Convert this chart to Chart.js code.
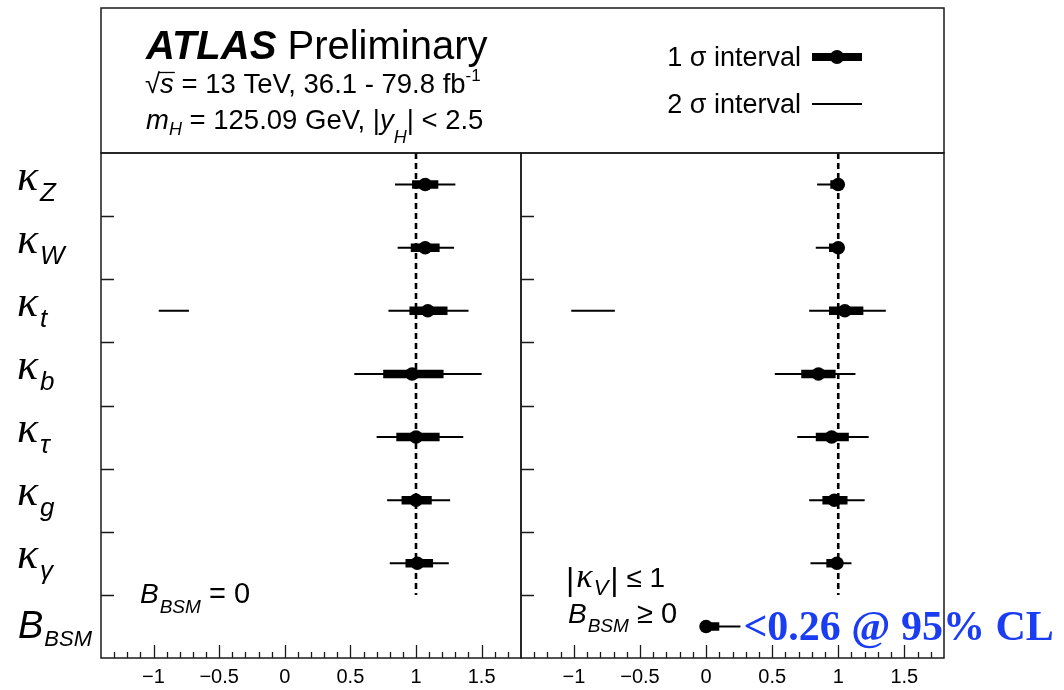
<!DOCTYPE html>
<html>
<head>
<meta charset="utf-8">
<script src="https://cdn.jsdelivr.net/npm/chart.js@4.4.0/dist/chart.umd.min.js"></script>
<style>
  html, body { margin: 0; padding: 0; background: #fff; }
  #wrap { position: relative; width: 1064px; height: 690px; }
  canvas { position: absolute; left: 0; top: 0; }
</style>
</head>
<body>
<div id="wrap">
  <canvas id="fixedPanel" width="1064" height="690"></canvas>
  <canvas id="freePanel" width="1064" height="690"></canvas>
</div>
<script>
// Coupling modifiers, top to bottom
const rowSymbols    = ['κ', 'κ', 'κ', 'κ', 'κ', 'κ', 'κ', 'B'];
const rowSubscripts = ['Z', 'W', 't', 'b', 'τ', 'g', 'γ', 'BSM'];

// Fit with B_BSM = 0
const fixedBest  = [1.07, 1.07, 1.09, 0.97, 1.00, 1.00, 1.01, null];
const fixed1Lo   = [0.97, 0.96, 0.95, 0.75, 0.85, 0.89, 0.92, null];
const fixed1Hi   = [1.17, 1.18, 1.24, 1.21, 1.18, 1.12, 1.13, null];
const fixed2Lo   = [0.84, 0.86, 0.79, 0.53, 0.70, 0.78, 0.80, null];
const fixed2Hi   = [1.30, 1.29, 1.40, 1.50, 1.36, 1.26, 1.25, null];
const fixed2AltLo = [null, null, -0.96, null, null, null, null, null];
const fixed2AltHi = [null, null, -0.73, null, null, null, null, null];

// Fit with |kappa_V| <= 1 and B_BSM >= 0
const freeBest   = [1.00, 1.00, 1.05, 0.85, 0.95, 0.97, 0.99, 0.00];
const free1Lo    = [0.94, 0.93, 0.93, 0.72, 0.83, 0.88, 0.91, 0.00];
const free1Hi    = [1.00, 1.00, 1.19, 0.98, 1.08, 1.07, 1.03, 0.10];
const free2Lo    = [0.84, 0.83, 0.78, 0.52, 0.69, 0.78, 0.79, 0.00];
const free2Hi    = [1.00, 1.00, 1.36, 1.13, 1.23, 1.20, 1.10, 0.26];
const free2AltLo = [null, null, -1.02, null, null, null, null, null];
const free2AltHi = [null, null, -0.69, null, null, null, null, null];

const bsmLimit = 0.26;      // 95% CL upper limit on B_BSM
const smValue = 1;          // Standard Model expectation for every kappa
const xMin = -1.4, xMax = 1.8;
const tickValues = [-1, -0.5, 0, 0.5, 1, 1.5];
const tickLabels = ['−1', '−0.5', '0', '0.5', '1', '1.5'];

const SANS = '"Liberation Sans", Arial, Helvetica, sans-serif';
const SERIF = '"Liberation Serif", "Times New Roman", serif';
const INK = '#000';

// interval lists -> one broken polyline (null entries break it)
function intervalPoints(lo, hi, altLo, altHi) {
  const pts = [];
  lo.forEach((l, i) => {
    if (l == null) return;
    const y = i + 0.5;
    pts.push({ x: l, y }, { x: hi[i], y }, { x: null, y: null });
    if (altLo && altLo[i] != null) {
      pts.push({ x: altLo[i], y }, { x: altHi[i], y }, { x: null, y: null });
    }
  });
  return pts;
}
function bestPoints(best) {
  return best.map((v, i) => v == null ? null : { x: v, y: i + 0.5 }).filter(p => p);
}

// draws a run of differently styled text pieces: [text, font, dy, extraGap]
function drawRuns(ctx, x, y, runs, align) {
  ctx.save();
  ctx.textBaseline = 'alphabetic';
  ctx.textAlign = 'left';
  ctx.fillStyle = INK;
  let total = 0;
  runs.forEach(r => { ctx.font = r[1]; total += ctx.measureText(r[0]).width + (r[3] || 0); });
  let cx = align === 'right' ? x - total : x;
  runs.forEach(r => {
    ctx.font = r[1];
    ctx.fillText(r[0], cx, y + (r[2] || 0));
    cx += ctx.measureText(r[0]).width + (r[3] || 0);
  });
  ctx.restore();
  return cx;
}

function datasetsFor(best, lo1, hi1, lo2, hi2, alo2, ahi2) {
  return [
    { type: 'scatter', data: bestPoints(best), pointRadius: 6.8, pointHoverRadius: 6.8,
      backgroundColor: INK, borderWidth: 0, showLine: false },
    { type: 'line', data: intervalPoints(lo1, hi1), borderColor: INK, borderWidth: 8.5,
      borderCapStyle: 'butt', pointRadius: 0, spanGaps: false, fill: false },
    { type: 'line', data: intervalPoints(lo2, hi2, alo2, ahi2), borderColor: INK, borderWidth: 2,
      borderCapStyle: 'butt', pointRadius: 0, spanGaps: false, fill: false },
    { type: 'line', data: [{ x: smValue, y: 0 }, { x: smValue, y: rowSymbols.length - 1 }],
      borderColor: INK, borderWidth: 2.6, borderDash: [6, 4], pointRadius: 0, fill: false }
  ];
}

// frame plus inward-pointing ticks of each panel
const framePlugin = {
  id: 'frame',
  afterDraw(chart) {
    const { ctx, chartArea: a, scales: { x, y } } = chart;
    ctx.save();
    ctx.strokeStyle = '#1a1a1a';
    ctx.lineWidth = 1.5;
    ctx.strokeRect(a.left, a.top, a.right - a.left, a.bottom - a.top);
    ctx.lineWidth = 1.3;
    ctx.beginPath();
    for (let k = Math.ceil(xMin * 10) + 1; k < Math.floor(xMax * 10); k++) {
      const px = Math.round(x.getPixelForValue(k / 10)) + 0.5;
      const len = k % 5 === 0 ? 13 : 6;
      ctx.moveTo(px, a.bottom);
      ctx.lineTo(px, a.bottom - len);
    }
    for (let r = 1; r < rowSymbols.length; r++) {
      const py = Math.round(y.getPixelForValue(r)) + 0.5;
      ctx.moveTo(a.left, py);
      ctx.lineTo(a.left + 13, py);
    }
    ctx.stroke();
    ctx.restore();
  }
};

function panelOptions(padLeft, padRight) {
  return {
    responsive: false,
    animation: false,
    devicePixelRatio: 1,
    layout: { padding: { left: padLeft, right: padRight, top: 153, bottom: 0 } },
    plugins: { legend: { display: false }, tooltip: { enabled: false } },
    scales: {
      x: {
        type: 'linear', min: xMin, max: xMax,
        afterFit: s => { s.height = 32; },
        afterBuildTicks: s => { s.ticks = tickValues.map(v => ({ value: v })); },
        grid: { display: false, drawTicks: false },
        border: { display: false },
        ticks: {
          padding: 7, color: INK, autoSkip: false, maxRotation: 0,
          font: { family: SANS, size: 20 },
          callback: v => { const i = tickValues.indexOf(v); return i < 0 ? '' : tickLabels[i]; }
        }
      },
      y: { type: 'linear', min: 0, max: rowSymbols.length, reverse: true, display: false }
    }
  };
}

// row labels along the left edge of the first panel
const rowLabelPlugin = {
  id: 'rowLabels',
  afterDraw(chart) {
    const { ctx, scales: { y } } = chart;
    rowSymbols.forEach((sym, i) => {
      const cy = y.getPixelForValue(i + 0.5);
      if (sym === 'κ') {
        drawRuns(ctx, 17, cy + 5, [
          [sym, 'italic 44px ' + SERIF, 0, 2],
          [rowSubscripts[i], 'italic 26px ' + SANS, 11]
        ]);
      } else {
        drawRuns(ctx, 18, cy + 12, [
          [sym, 'italic 38px ' + SANS, 0, 1],
          [rowSubscripts[i], 'italic 22px ' + SANS, 8]
        ]);
      }
    });
    // fit condition
    const last = y.getPixelForValue(rowSymbols.length - 1);
    drawRuns(ctx, 140, last + 8, [
      ['B', 'italic 28px ' + SANS, 0, 1],
      ['BSM', 'italic 19px ' + SANS, 10],
      [' = 0', '29px ' + SANS, 0]
    ]);
  }
};

const fixedChart = new Chart(document.getElementById('fixedPanel'), {
  data: { datasets: datasetsFor(fixedBest, fixed1Lo, fixed1Hi, fixed2Lo, fixed2Hi, fixed2AltLo, fixed2AltHi) },
  options: panelOptions(101, 1064 - 521),
  plugins: [framePlugin, rowLabelPlugin]
});

// header box, legend and the second panel's annotations
const headerPlugin = {
  id: 'header',
  afterDraw(chart) {
    const { ctx, chartArea: a, scales: { x, y } } = chart;
    const left = fixedChart.chartArea.left;
    ctx.save();
    ctx.strokeStyle = '#1a1a1a';
    ctx.lineWidth = 1.5;
    ctx.strokeRect(left, 8, a.right - left, a.top - 8);
    ctx.restore();

    drawRuns(ctx, 146, 59, [
      ['ATLAS', 'italic bold 40px ' + SANS, 0, 0],
      [' Preliminary', '40px ' + SANS, 0]
    ]);
    // sqrt(s) line
    const F = '27.5px ' + SANS, FI = 'italic 27.5px ' + SANS;
    const rootEnd = drawRuns(ctx, 145, 93, [['√', F, 0, 0]]);
    const sEnd = drawRuns(ctx, rootEnd, 93, [['s', FI, 0, 0]]);
    ctx.save();
    ctx.strokeStyle = INK; ctx.lineWidth = 1.3;
    ctx.beginPath(); ctx.moveTo(rootEnd - 2, 72.5); ctx.lineTo(sEnd + 1, 72.5); ctx.stroke();
    ctx.restore();
    drawRuns(ctx, sEnd, 93, [
      [' = 13 TeV, 36.1 - 79.8 fb', F, 0, 0],
      ['-1', '17px ' + SANS, -12]
    ]);
    drawRuns(ctx, 146, 129, [
      ['m', FI, 0, 0],
      ['H', 'italic 18px ' + SANS, 6, 0],
      [' = 125.09 GeV, |', F, 0, 0],
      ['y', FI, 0, 0],
      ['H', 'italic 18px ' + SANS, 14, 0],
      ['| < 2.5', F, 0]
    ]);

    // legend
    const lx0 = 812, lx1 = 862;
    drawRuns(ctx, 801, 66, [['1 σ interval', '27px ' + SANS, 0]], 'right');
    drawRuns(ctx, 801, 113, [['2 σ interval', '27px ' + SANS, 0]], 'right');
    ctx.save();
    ctx.strokeStyle = INK; ctx.fillStyle = INK;
    ctx.lineWidth = 8;
    ctx.beginPath(); ctx.moveTo(lx0, 57); ctx.lineTo(lx1, 57); ctx.stroke();
    ctx.beginPath(); ctx.arc((lx0 + lx1) / 2, 57, 7, 0, Math.PI * 2); ctx.fill();
    ctx.lineWidth = 2;
    ctx.beginPath(); ctx.moveTo(lx0, 104); ctx.lineTo(lx1, 104); ctx.stroke();
    ctx.restore();

    // fit conditions
    const last = y.getPixelForValue(rowSymbols.length - 1);
    const barEnd = drawRuns(ctx, 566, last - 8, [['|', '32px ' + SANS, 3, 2]]);
    const kEnd = drawRuns(ctx, barEnd, last - 8, [
      ['κ', 'italic 34px ' + SERIF, 0, 1],
      ['V', 'italic 22px ' + SANS, 8, 2]
    ]);
    drawRuns(ctx, kEnd, last - 8, [['|', '32px ' + SANS, 3, 0], [' ≤ 1', '28px ' + SANS, 0]]);
    drawRuns(ctx, 568, last + 28, [
      ['B', 'italic 28px ' + SANS, 0, 1],
      ['BSM', 'italic 19px ' + SANS, 9],
      [' ≥ 0', '29px ' + SANS, 0]
    ]);

    // upper limit on B_BSM
    const rowY = y.getPixelForValue(rowSymbols.length - 0.5);
    ctx.save();
    ctx.fillStyle = '#1a3cf2';
    ctx.font = 'bold 42px ' + SERIF;
    ctx.textBaseline = 'alphabetic';
    ctx.fillText('<' + bsmLimit.toFixed(2) + ' @ 95% CL', x.getPixelForValue(bsmLimit) + 3, rowY + 14);
    ctx.restore();
  }
};

const freeChart = new Chart(document.getElementById('freePanel'), {
  data: { datasets: datasetsFor(freeBest, free1Lo, free1Hi, free2Lo, free2Hi, free2AltLo, free2AltHi) },
  options: panelOptions(521, 1064 - 944),
  plugins: [framePlugin, headerPlugin]
});
</script>
</body>
</html>
